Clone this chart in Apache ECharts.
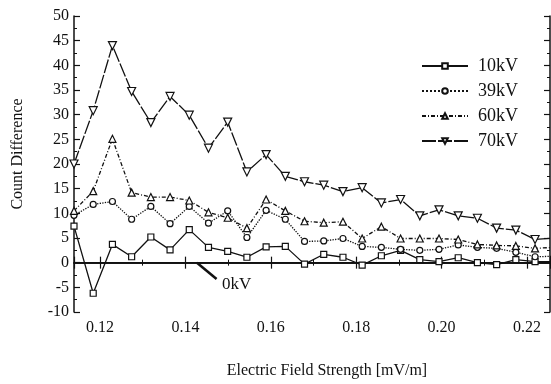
<!DOCTYPE html>
<html>
<head>
<meta charset="utf-8">
<script src="https://cdn.jsdelivr.net/npm/echarts@6/dist/echarts.min.js"></script>
<style>
  html, body { margin: 0; padding: 0; background: #fff; }
  #chart { width: 551px; height: 384px; }
</style>
</head>
<body>
<div id="chart"></div>
<script>
// electric field strength [mV/m] of each sample (last one lies just past the frame)
const fieldStrength = [0.1139, 0.1184, 0.1229, 0.1274, 0.1319, 0.1364, 0.1409, 0.1454, 0.1499,
  0.1544, 0.1589, 0.1634, 0.1679, 0.1724, 0.1769, 0.1814, 0.1859, 0.1904, 0.1949, 0.1994,
  0.2039, 0.2084, 0.2129, 0.2174, 0.2219, 0.2264];

const kv10 = [7.4, -6.2, 3.7, 1.2, 5.2, 2.6, 6.7, 3.1, 2.3, 1.1, 3.2, 3.3, -0.3, 1.7, 1.1, -0.5,
  1.4, 2.5, 0.6, 0.2, 1.0, 0.0, -0.4, 0.6, 0.2, 0.2];
const kv39 = [9.6, 11.8, 12.4, 8.8, 11.4, 7.9, 11.4, 8.0, 10.5, 5.1, 10.6, 8.8, 4.3, 4.4, 4.9, 3.3,
  3.1, 2.7, 2.5, 2.7, 3.6, 3.1, 2.9, 2.1, 1.2, 1.3];
const kv60 = [10.5, 14.5, 25.1, 14.2, 13.3, 13.3, 12.6, 10.2, 9.1, 7.0, 12.8, 10.5, 8.4, 8.1, 8.3, 4.9,
  7.3, 4.9, 4.9, 4.9, 4.7, 3.7, 3.5, 3.4, 2.9, 3.1];
const kv70 = [20.0, 30.8, 44.0, 34.7, 28.4, 33.7, 29.9, 23.2, 28.5, 18.4, 21.9, 17.5, 16.4, 15.7, 14.4, 15.2,
  12.1, 12.8, 9.5, 10.7, 9.5, 9.0, 7.0, 6.6, 4.7, 5.0];

const baseline = [0, 0];       // 0kV reference line
const xRange = [0.1139, 0.2254];
const yRange = [-10, 50];
const yStep = 5;

const font = "'Liberation Serif', 'Times New Roman', serif";
const ink = "#111";

const pairs = (ys) => ys.map((y, i) => [fieldStrength[i], y]);

const chart = echarts.init(document.getElementById("chart"));

const axisCommon = {
  axisLine: { show: true, lineStyle: { color: ink, width: 1.5 } },
  axisTick: { show: true, inside: true, length: 6, lineStyle: { color: ink, width: 1.2 } },
  minorTick: { show: true, splitNumber: 2, length: 3, lineStyle: { color: ink, width: 1 } },
  splitLine: { show: false },
};

function series(name, ys, symbol, size, lineType, rotate) {
  return {
    name,
    type: "line",
    data: pairs(ys),
    symbol,
    symbolSize: size,
    symbolRotate: rotate || 0,
    showAllSymbol: true,
    clip: true,
    itemStyle: { color: "#fff", borderColor: ink, borderWidth: 1.2 },
    lineStyle: { color: ink, width: 1.3, type: lineType },
    emphasis: { disabled: true },
    z: 3,
  };
}

const options = {
  backgroundColor: "#fff",
  animation: false,
  textStyle: { fontFamily: font, color: ink },
  grid: { left: 74, right: 1, top: 16, bottom: 71, containLabel: false },
  legend: {
    orient: "vertical",
    left: 421,
    top: 57,
    padding: 0,
    itemWidth: 46,
    itemHeight: 7,
    itemGap: 7,
    data: ["10kV", "39kV", "60kV", "70kV"],
    textStyle: { fontFamily: font, fontSize: 18, color: ink, padding: [0, 0, 0, 5] },
  },
  xAxis: [
    {
      type: "value",
      min: xRange[0],
      max: xRange[1],
      position: "bottom",
      name: "Electric Field Strength [mV/m]",
      nameLocation: "middle",
      nameGap: 51,
      nameTextStyle: { fontFamily: font, fontSize: 16, color: ink, padding: [0, 0, 0, 30] },
      axisLabel: {
        fontFamily: font, fontSize: 16, color: ink, margin: 8,
        showMinLabel: false, showMaxLabel: false,
        formatter: (v) => v.toFixed(2),
      },
      ...axisCommon,
    },
    {
      type: "value",
      min: xRange[0],
      max: xRange[1],
      position: "top",
      axisLabel: { show: false },
      ...axisCommon,
    },
  ],
  yAxis: [
    {
      type: "value",
      min: yRange[0],
      max: yRange[1],
      interval: yStep,
      position: "left",
      name: "Count Difference",
      nameLocation: "middle",
      nameGap: 48,
      nameTextStyle: { fontFamily: font, fontSize: 16, color: ink, padding: [0, 0, 0, 20] },
      axisLabel: { fontFamily: font, fontSize: 16, color: ink, margin: 5 },
      ...axisCommon,
    },
    {
      type: "value",
      min: yRange[0],
      max: yRange[1],
      interval: yStep,
      position: "right",
      axisLabel: { show: false },
      ...axisCommon,
    },
  ],
  series: [
    {
      name: "0kV",
      type: "line",
      data: [[xRange[0], baseline[0]], [xRange[1], baseline[1]]],
      symbol: "none",
      lineStyle: { color: ink, width: 1.5 },
      emphasis: { disabled: true },
      z: 2,
      markLine: {
        silent: true,
        symbol: ["none", "none"],
        label: { show: false },
        lineStyle: { color: ink, width: 2.5, type: "solid" },
        data: [[{ coord: [0.1473, -3.3] }, { coord: [0.1427, 0] }]],
      },
    },
    series("10kV", kv10, "rect", 6, "solid"),
    series("39kV", kv39, "circle", 6, "dotted"),
    series("60kV", kv60, "triangle", 7, [4, 2, 1, 2]),
    series("70kV", kv70, "triangle", 8, [14, 2], 180),
  ],
  graphic: [
    {
      type: "text",
      left: 222,
      top: 276,
      style: { text: "0kV", fontFamily: font, fontSize: 17, fill: ink },
    },
  ],
};

chart.setOption(options);

window.addEventListener("resize", () => chart.resize());
</script>
</body>
</html>
